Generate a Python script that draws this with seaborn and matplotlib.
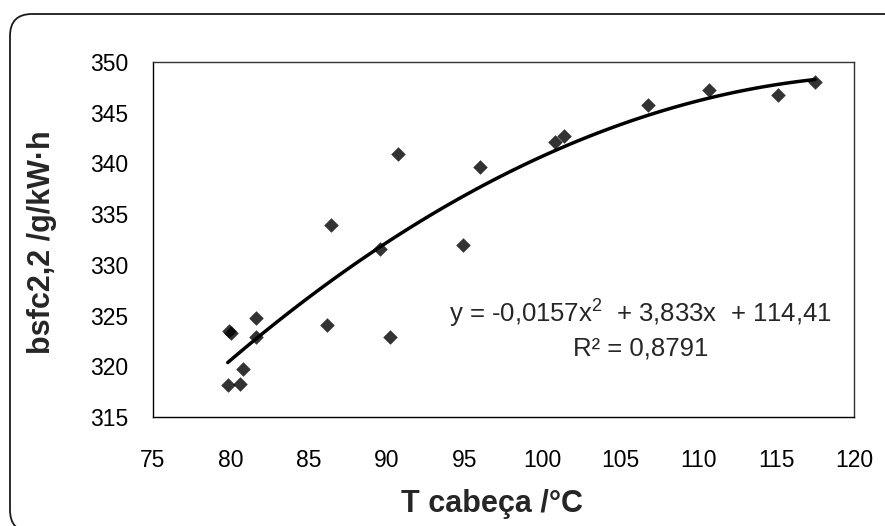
import numpy as np
import pandas as pd
import matplotlib
matplotlib.use("Agg")
import matplotlib.pyplot as plt
from matplotlib.patches import FancyBboxPatch
import seaborn as sns

# ---- data ----
t_cabeca = [79.8, 79.9, 80.0, 80.6, 80.8, 81.6, 81.6, 86.2, 86.4, 89.6,
            90.2, 90.7, 94.9, 96.0, 100.8, 101.4, 106.8, 110.7, 115.1, 117.5]
bsfc = [318.2, 323.5, 323.3, 318.3, 319.7, 324.8, 322.9, 324.1, 333.9, 331.6,
        322.9, 340.9, 332.0, 339.6, 342.1, 342.7, 345.8, 347.2, 346.7, 348.0]
x_ticks = [75, 80, 85, 90, 95, 100, 105, 110, 115, 120]
y_ticks = [315, 320, 325, 330, 335, 340, 345, 350]
eq_line1 = "y = -0,0157x$^{2}$  + 3,833x  + 114,41"
eq_line2 = "R² = 0,8791"
x_label = "T cabeça /°C"
y_label = "bsfc2,2 /g/kW·h"

df = pd.DataFrame({"T": t_cabeca, "bsfc": bsfc})

sns.set_style("white")
plt.rcParams["font.family"] = ["Liberation Sans", "DejaVu Sans"]
plt.rcParams["mathtext.fontset"] = "custom"
plt.rcParams["mathtext.rm"] = "Liberation Sans"
plt.rcParams["mathtext.it"] = "Liberation Sans"
plt.rcParams["mathtext.default"] = "regular"

fig = plt.figure(figsize=(8.85, 5.26), dpi=100)
ax = fig.add_axes([153 / 885, 1 - 417 / 526, 701 / 885, 355 / 526])

sns.regplot(data=df, x="T", y="bsfc", order=2, ci=None, truncate=True, ax=ax,
            marker="D",
            scatter_kws=dict(s=55, color="black", linewidths=0, zorder=3),
            line_kws=dict(color="black", lw=2.5, zorder=2))

ax.set_xlim(75, 120)
ax.set_ylim(315, 350)
ax.set_xticks(x_ticks)
ax.set_yticks(y_ticks)
ax.tick_params(axis="both", direction="out", width=1, color="black",
               labelsize=16.5, labelcolor="black")
ax.tick_params(axis="y", length=5.5, pad=12)
ax.tick_params(axis="x", length=6, pad=17)
for s in ax.spines.values():
    s.set_visible(True)
    s.set_color("#333333")
    s.set_linewidth(1)
ax.spines["left"].set_color("black")
ax.spines["bottom"].set_color("black")

ax.set_xlabel(x_label, fontsize=22, fontweight="bold", va="center")
ax.xaxis.set_label_coords(0.484, -0.244)
ax.set_ylabel(y_label, fontsize=22, fontweight="bold", va="center")
ax.yaxis.set_label_coords(-0.159, 0.493)

ax.text(106.3, 325.15, eq_line1, ha="center", va="center", fontsize=18.5)
ax.text(106.3, 321.75, eq_line2, ha="center", va="center", fontsize=18.5)

frame = FancyBboxPatch((0.10, -0.06), 8.98, 5.18,
                       boxstyle="round,pad=0,rounding_size=0.22",
                       transform=fig.dpi_scale_trans, facecolor="none",
                       edgecolor="#1a1a1a", linewidth=1.3, clip_on=False)
fig.patches.append(frame)

fig.savefig("out.png", dpi=100)
